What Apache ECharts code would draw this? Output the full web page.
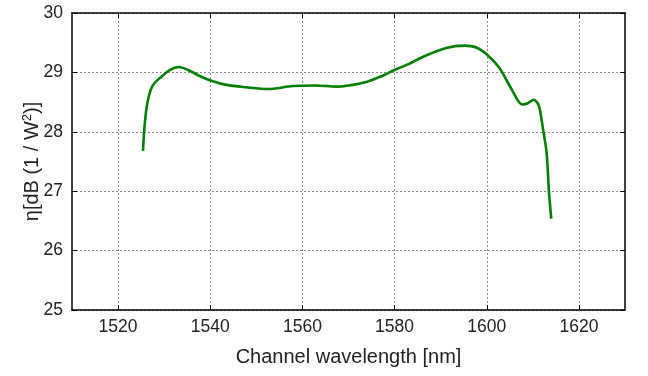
<!DOCTYPE html>
<html>
<head>
<meta charset="utf-8">
<script src="https://cdn.jsdelivr.net/npm/echarts@6/dist/echarts.min.js"></script>
<style>
  html, body { margin: 0; padding: 0; background: #fff; }
  #chart { width: 648px; height: 376px; }
</style>
</head>
<body>
<div id="chart"></div>
<script>
// Channel wavelength (nm) and conversion efficiency eta (dB 1/W^2)
const wavelength = [
  1525.4, 1525.6, 1525.8, 1526.1, 1526.5, 1527.2, 1528.0, 1529.0, 1531.2, 1533.2,
  1535.2, 1537.7, 1540.2, 1543.5, 1547.8, 1552.5, 1557.9, 1563.0, 1567.4, 1570.0,
  1573.9, 1577.0, 1580.0, 1583.0, 1586.1, 1591.2, 1595.2, 1597.7, 1600.2, 1602.8,
  1605.3, 1607.7, 1608.9, 1610.2, 1611.3, 1612.2, 1613.0, 1613.5, 1614.0
];
const eta = [
  27.68, 27.95, 28.14, 28.36, 28.54, 28.73, 28.83, 28.90, 29.04, 29.09,
  29.04, 28.94, 28.86, 28.79, 28.75, 28.72, 28.77, 28.78, 28.76, 28.78,
  28.84, 28.93, 29.04, 29.14, 29.26, 29.41, 29.45, 29.42, 29.29, 29.07,
  28.73, 28.46, 28.48, 28.54, 28.44, 28.05, 27.64, 26.99, 26.54
];
const xTicks = [1520, 1540, 1560, 1580, 1600, 1620];
const yTicks = [25, 26, 27, 28, 29, 30];

const FONT = 'Liberation Sans, Arial, sans-serif';
const TXT = '#222';

const chart = echarts.init(document.getElementById('chart'), null, { renderer: 'canvas' });

const frameLine = { show: true, onZero: false, lineStyle: { color: '#000', width: 1.5 } };
const innerTick = { show: true, inside: true, length: 5, lineStyle: { color: '#000', width: 1 } };
const dashedGrid = { show: true, lineStyle: { color: '#8a8a8a', type: [2, 2], width: 1 } };
const plain = v => String(v);

chart.setOption({
  animation: false,
  grid: { left: 72, right: 23, top: 13, bottom: 66, containLabel: false },
  xAxis: [
    {
      type: 'value', min: 1510, max: 1630, interval: 10,
      axisLine: frameLine,
      axisTick: Object.assign({}, innerTick, { customValues: xTicks }),
      axisLabel: {
        customValues: xTicks, formatter: plain,
        color: TXT, fontFamily: FONT, fontSize: 17.5, margin: 8
      },
      splitLine: Object.assign({}, dashedGrid),
      name: 'Channel wavelength [nm]', nameLocation: 'middle', nameGap: 37,
      nameMoveOverlap: false,
      nameTextStyle: { color: TXT, fontFamily: FONT, fontSize: 20 }
    },
    {
      type: 'value', position: 'top', min: 1510, max: 1630,
      axisLine: frameLine,
      axisTick: Object.assign({}, innerTick, { customValues: xTicks }),
      axisLabel: { show: false },
      splitLine: { show: false }
    }
  ],
  yAxis: [
    {
      type: 'value', min: 25, max: 30, interval: 1,
      axisLine: frameLine,
      axisTick: innerTick,
      axisLabel: {
        customValues: yTicks, formatter: plain,
        color: TXT, fontFamily: FONT, fontSize: 17.5, margin: 9
      },
      splitLine: dashedGrid,
      name: '{n|η[dB (1 / W}{s|2}{n|)]}', nameLocation: 'middle', nameGap: 29,
      nameMoveOverlap: false,
      nameTextStyle: {
        color: TXT, fontFamily: FONT, fontSize: 20,
        rich: {
          n: { fontFamily: FONT, fontSize: 20, color: TXT },
          s: { fontFamily: FONT, fontSize: 13, color: TXT, verticalAlign: 'top', padding: [0, 0, 9, 0] }
        }
      }
    },
    {
      type: 'value', position: 'right', min: 25, max: 30, interval: 1,
      axisLine: frameLine,
      axisTick: innerTick,
      axisLabel: { show: false },
      splitLine: { show: false }
    }
  ],
  series: [
    {
      type: 'line',
      xAxisIndex: 0, yAxisIndex: 0,
      data: wavelength.map((w, i) => [w, eta[i]]),
      smooth: 0.3,
      showSymbol: false,
      lineStyle: { color: '#008000', width: 2.6 },
      z: 5
    }
  ]
});
</script>
</body>
</html>
